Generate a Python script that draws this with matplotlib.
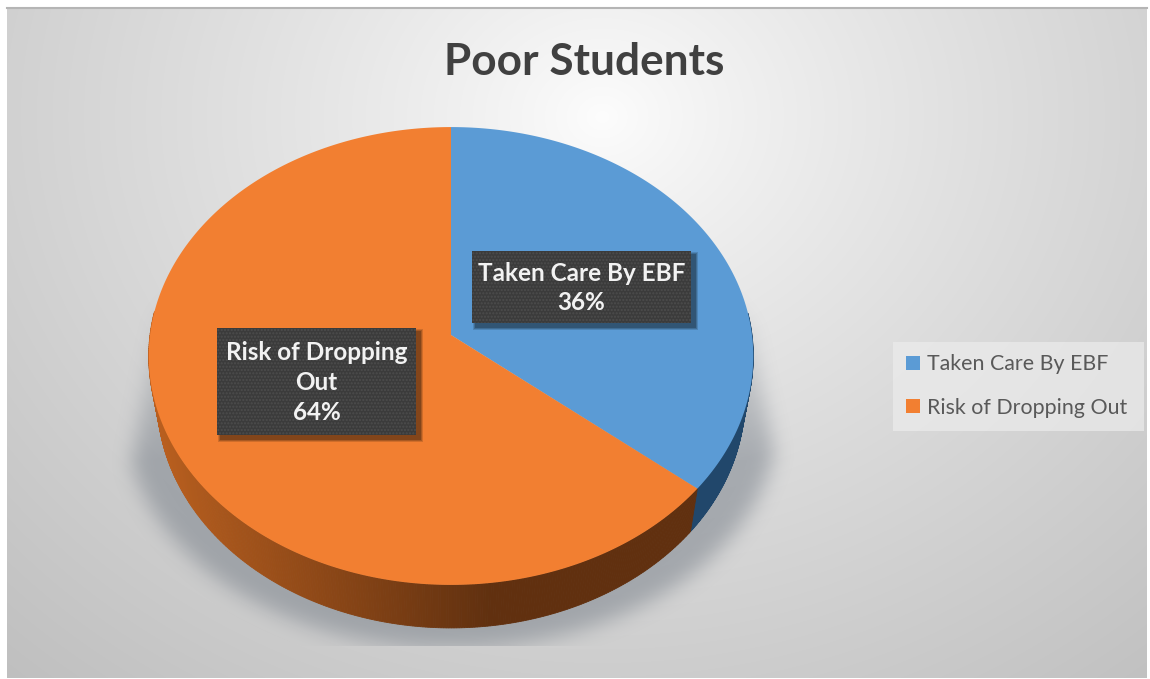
import numpy as np
import matplotlib
matplotlib.use('Agg')
import matplotlib.pyplot as plt
from matplotlib.patches import Patch, Rectangle

# data
categories = ['Taken Care By EBF', 'Risk of Dropping Out']
values = [36, 64]
label_lines = ['Taken Care By EBF', 'Risk of Dropping\nOut']
colors = ['#5b9bd5', '#f27f31']
title = 'Poor Students'

W, H = 1150, 679
plt.rcParams['font.family'] = ['Lato', 'DejaVu Sans']

fig = plt.figure(figsize=(W / 100, H / 100), dpi=100)
ax = fig.add_axes([0, 0, 1, 1])
ax.set_xlim(0, W)
ax.set_ylim(H, 0)
ax.axis('off')

# pie placement, perspective circle -> pixels
cx, cy = 451, 335
a, b, k = 301, 227, 0.0917
depth = 43
rim_scale = 0.972  # lower rim is a bit narrower than the top face


def project(theta):
    # theta is clockwise from 12 o'clock
    u, v = np.sin(theta), np.cos(theta)
    d = 1 + k * v
    return cx + a * u / d, cy - b * v / d


def blur(img, r, passes=3):
    kernel = np.ones(2 * r + 1) / (2 * r + 1)
    for _ in range(passes):
        img = np.apply_along_axis(lambda m: np.convolve(m, kernel, mode='same'), 0, img)
        img = np.apply_along_axis(lambda m: np.convolve(m, kernel, mode='same'), 1, img)
    return img


# background gradient
yy, xx = np.mgrid[0:H, 0:W]
dist = np.hypot((xx - 600) / 800, (yy - 110) / 680)
grey = np.clip(253 - 56 * dist ** 0.85, 0, 255) / 255
bg = np.dstack([grey, grey, grey])
ax.imshow(bg, extent=(7, 1147, 678, 8), zorder=0, aspect='auto', interpolation='bilinear')
ax.plot([7, 1147], [8, 8], color='#b5b5b5', lw=1.5, zorder=1)

# soft shadow under the pie
mask = (((xx - 451) / 326) ** 2 + ((yy - 418) / 230) ** 2 < 1).astype(float)
mask *= (xx > 165 - (yy - 280) * 35 / 190)
mask *= (xx < 752 + (yy - 340) * 23 / 120)
shadow = blur(mask, 9) * np.clip((yy - 260) / 200, 0, 1)
shadow[yy > 645] = 0
rgba = np.zeros((H, W, 4))
rgba[..., 0], rgba[..., 1], rgba[..., 2] = 0.45, 0.48, 0.52
rgba[..., 3] = shadow * 0.5
ax.imshow(rgba, extent=(0, W, H, 0), zorder=1, aspect='auto')

# slices from the values
fracs = np.array(values) / sum(values)
edges = np.concatenate([[0], np.cumsum(fracs)]) * 2 * np.pi

# side wall, drawn in thin strips so it can shade along the rim
wall_colors = {0: np.array([0.13, 0.28, 0.42]), 1: np.array([0.72, 0.37, 0.12])}
for i in range(len(values)):
    th = np.linspace(edges[i], edges[i + 1], 500)
    for t0, t1 in zip(th[:-1], th[1:]):
        if np.cos(t0) > 0.1:
            continue
        x0, y0 = project(t0)
        x1, y1 = project(t1)
        if i == 1:
            # darkest near the front right, lighter toward the left
            s = (x0 - 160) / 330
            shade = wall_colors[1] + (np.array([0.38, 0.19, 0.06]) - wall_colors[1]) * min(max(s, 0), 1)
        else:
            shade = wall_colors[0]
        xb0 = cx + (x0 - cx) * rim_scale
        xb1 = cx + (x1 - cx) * rim_scale
        ax.fill([x0, x1, xb1, xb0], [y0, y1, y1 + depth, y0 + depth], color=shade, lw=0.6, zorder=2)

# top face
for i in range(len(values)):
    th = np.linspace(edges[i], edges[i + 1], 300)
    px, py = project(th)
    ax.fill(np.r_[cx, px], np.r_[cy, py], color=colors[i], lw=0, zorder=3)

# data labels
boxes = [(472, 251, 219, 72), (217, 328, 199, 107)]
for name, val, (bx, by, bw, bh) in zip(label_lines, values, boxes):
    for grow, alpha in [(3, 0.14), (2, 0.18), (1, 0.22)]:
        ax.add_patch(Rectangle((bx + 4 - grow, by + 4 - grow), bw + 2 * grow, bh + 2 * grow,
                               color='black', alpha=alpha, lw=0, zorder=4))
    ax.add_patch(Rectangle((bx, by), bw, bh, facecolor='#3b3b3b', edgecolor='#4d4d4d',
                           hatch='.....', lw=0, zorder=5))
    ax.text(bx + bw / 2, by + bh / 2 + 1, f'{name}\n{val}%', color='#f2f2f2', fontsize=17.5,
            fontweight='bold', ha='center', va='center', linespacing=1.36, zorder=6)

ax.text(584, 62, title, color='#404040', fontsize=31.8, fontweight='bold',
        ha='center', va='center', zorder=6)

# legend, with its panel as a separate box
ax.add_patch(Rectangle((893, 342), 251, 89, facecolor='#ececec', alpha=0.7, lw=0, zorder=4))
handles = [Patch(facecolor=c, label=n) for c, n in zip(colors, categories)]
leg = ax.legend(handles=handles, loc='center left', bbox_to_anchor=(906 / W, 1 - 386 / H),
                bbox_transform=fig.transFigure, fontsize=15.4, frameon=False,
                labelcolor='#595959', handlelength=0.65, handleheight=0.65, handletextpad=0.33,
                labelspacing=1.08, borderpad=0, borderaxespad=0)

fig.savefig('out.png', dpi=100)
